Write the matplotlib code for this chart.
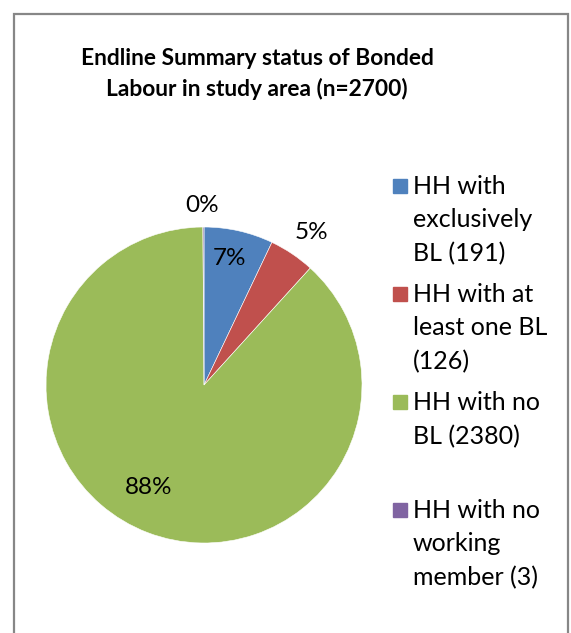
import textwrap
import numpy as np
import matplotlib.pyplot as plt
from matplotlib.patches import Rectangle

plt.rcParams['font.family'] = ['Lato', 'DejaVu Sans']

title = "Endline Summary status of Bonded\nLabour in study area (n=2700)"
categories = ["HH with exclusively BL", "HH with at least one BL",
              "HH with no BL", "HH with no working member"]
counts = [191, 126, 2380, 3]
colors = ["#4F81BD", "#C0504D", "#9BBB59", "#8064A2"]
# % label placement: distance from centre (fraction of radius), angle nudge (deg)
label_dist = [0.816, 1.18, 0.735, 1.136]
label_nudge = [1.5, -1.5, -7.4, 0.3]

W, H = 571, 633
fig = plt.figure(figsize=(W / 100, H / 100), dpi=100)

# outer chart border (bottom edge falls outside the image)
fig.patches.append(Rectangle((14 / W, -0.05), 554 / W, 1.05 - 13.5 / H,
                             transform=fig.transFigure, fill=False,
                             edgecolor="#878787", linewidth=1.6))

fig.text(257 / W, 1 - 74 / H, title, ha="center", va="center",
         fontsize=16.4, fontweight="bold", linespacing=1.5)

cx, cy, r = 204, 385, 158
ax = fig.add_axes([(cx - r) / W, (H - cy - r) / H, 2 * r / W, 2 * r / H])
wedges, _ = ax.pie(counts, colors=colors, startangle=90, counterclock=False,
                   wedgeprops=dict(edgecolor="white", linewidth=0.4),
                   radius=1)
ax.set_xlim(-1, 1)
ax.set_ylim(-1, 1)
ax.set_aspect("equal")
ax.axis("off")

total = sum(counts)
for w, c, d, nudge in zip(wedges, counts, label_dist, label_nudge):
    ang = np.deg2rad((w.theta1 + w.theta2) / 2 + nudge)
    ax.text(d * np.cos(ang), d * np.sin(ang), "%.0f%%" % (100 * c / total),
            ha="center", va="center", fontsize=17.5, clip_on=False)

# legend, one entry every 108 px as in the original
for i, (name, c, col) in enumerate(zip(categories, counts, colors)):
    y = 186 + 108 * i
    fig.patches.append(Rectangle((393 / W, 1 - (y + 7) / H), 14 / W, 14 / H,
                                 transform=fig.transFigure, color=col))
    fig.text(413 / W, 1 - (y - 11) / H, textwrap.fill("%s (%d)" % (name, c), 12),
             ha="left", va="top", fontsize=18, linespacing=1.55)

fig.savefig("out.png", dpi=100)
